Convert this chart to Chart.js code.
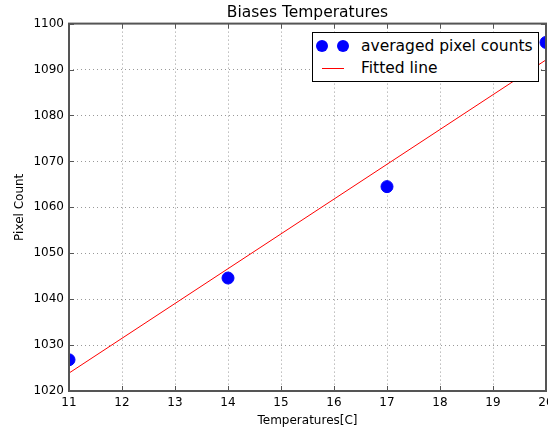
<!DOCTYPE html>
<html>
<head>
<meta charset="utf-8">
<script src="https://cdn.jsdelivr.net/npm/chart.js@4/dist/chart.umd.min.js"></script>
<style>
  body { margin: 0; background: #fff; }
  #wrap { position: relative; width: 548px; height: 432px; }
  #legend {
    position: absolute; left: 312px; top: 32px; width: 225px; height: 48px;
    border: 1px solid #000; background: #fff;
    font-family: "DejaVu Sans", sans-serif; font-size: 15.5px; color: #000;
  }
  .row { position: absolute; left: 0; height: 20px; line-height: 20px; }
  .dot { position: absolute; width: 12px; height: 12px; border-radius: 50%; background: #0000ff; top: 4px; }
  .seg { position: absolute; width: 22px; height: 1px; background: #ff0000; top: 10px; left: 9px; }
  .lbl { position: absolute; left: 48px; white-space: nowrap; }
</style>
</head>
<body>
<div id="wrap">
  <canvas id="chart"></canvas>
  <div id="legend">
    <div class="row" style="top:3px">
      <span class="dot" style="left:3px"></span><span class="dot" style="left:24px"></span>
      <span class="lbl">averaged pixel counts</span>
    </div>
    <div class="row" style="top:25px">
      <span class="seg"></span>
      <span class="lbl">Fitted line</span>
    </div>
  </div>
</div>
<script>
// DATA
const temps = [11, 14, 17, 20];
const counts = [1026.8, 1044.6, 1064.5, 1095.9];
const fitX = [11, 20];
const fitY = [1023.9, 1092.1];
const xTicks = [11, 12, 13, 14, 15, 16, 17, 18, 19, 20];
const yTicks = [1020, 1030, 1040, 1050, 1060, 1070, 1080, 1090, 1100];

const FONT = "'DejaVu Sans', sans-serif";

// frame + inward ticks, matplotlib style
const framePlugin = {
  id: "frame",
  afterDatasetsDraw(chart) {
    const { ctx, chartArea: a, scales } = chart;
    ctx.save();
    ctx.strokeStyle = "#555";
    ctx.lineWidth = 1;
    xTicks.forEach((t) => {
      const x = Math.round(scales.x.getPixelForValue(t)) + 0.5;
      ctx.beginPath();
      ctx.moveTo(x, a.bottom); ctx.lineTo(x, a.bottom - 5);
      ctx.moveTo(x, a.top); ctx.lineTo(x, a.top + 5);
      ctx.stroke();
    });
    yTicks.forEach((t) => {
      const y = Math.round(scales.y.getPixelForValue(t)) + 0.5;
      ctx.beginPath();
      ctx.moveTo(a.left, y); ctx.lineTo(a.left + 5, y);
      ctx.moveTo(a.right, y); ctx.lineTo(a.right - 5, y);
      ctx.stroke();
    });
    ctx.lineWidth = 2;
    ctx.strokeRect(a.left, a.top, a.right - a.left, a.bottom - a.top);
    ctx.restore();
  },
};

new Chart(document.getElementById("chart"), {
  type: "scatter",
  data: {
    datasets: [
      {
        label: "averaged pixel counts",
        data: temps.map((t, i) => ({ x: t, y: counts[i] })),
        backgroundColor: "#0000ff",
        borderColor: "#0000ff",
        pointRadius: 6,
        pointHoverRadius: 6,
        clip: 0,
        order: 1,
      },
      {
        type: "line",
        label: "Fitted line",
        data: fitX.map((t, i) => ({ x: t, y: fitY[i] })),
        borderColor: "#ff0000",
        borderWidth: 1,
        pointRadius: 0,
        fill: false,
        clip: 0,
        order: 2,
      },
    ],
  },
  options: {
    responsive: true,
    maintainAspectRatio: false,
    animation: false,
    layout: { autoPadding: false, padding: { right: 2 } },
    plugins: {
      legend: { display: false },
      tooltip: { enabled: false },
      title: {
        display: true,
        fullSize: false,
        text: "Biases Temperatures",
        color: "#000",
        font: { family: FONT, size: 15.5, weight: "normal" },
        padding: { top: 4, bottom: 1 },
      },
    },
    scales: {
      x: {
        type: "linear",
        min: 11,
        max: 20,
        afterBuildTicks: (s) => { s.ticks = xTicks.map((v) => ({ value: v })); },
        afterFit: (s) => { s.height = 41; s.paddingLeft = 0; s.paddingRight = 0; },
        ticks: { color: "#000", font: { family: FONT, size: 12 }, padding: 5, callback: (v) => String(v) },
        grid: { color: "#999", drawTicks: false },
        border: { display: false, dash: [1, 3] },
        title: {
          display: true,
          text: "Temperatures[C]",
          color: "#000",
          font: { family: FONT, size: 12 },
          padding: { top: 0, bottom: 4 },
        },
      },
      y: {
        min: 1020,
        max: 1100,
        afterBuildTicks: (s) => { s.ticks = yTicks.map((v) => ({ value: v })); },
        afterFit: (s) => { s.width = 69; s.paddingTop = 0; s.paddingBottom = 0; },
        ticks: { color: "#000", font: { family: FONT, size: 12 }, padding: 5, callback: (v) => String(v) },
        grid: { color: "#999", drawTicks: false },
        border: { display: false, dash: [1, 3] },
        title: {
          display: true,
          text: "Pixel Count",
          color: "#000",
          font: { family: FONT, size: 12 },
          padding: { top: 13, bottom: 0 },
        },
      },
    },
  },
  plugins: [framePlugin],
});
</script>
</body>
</html>
